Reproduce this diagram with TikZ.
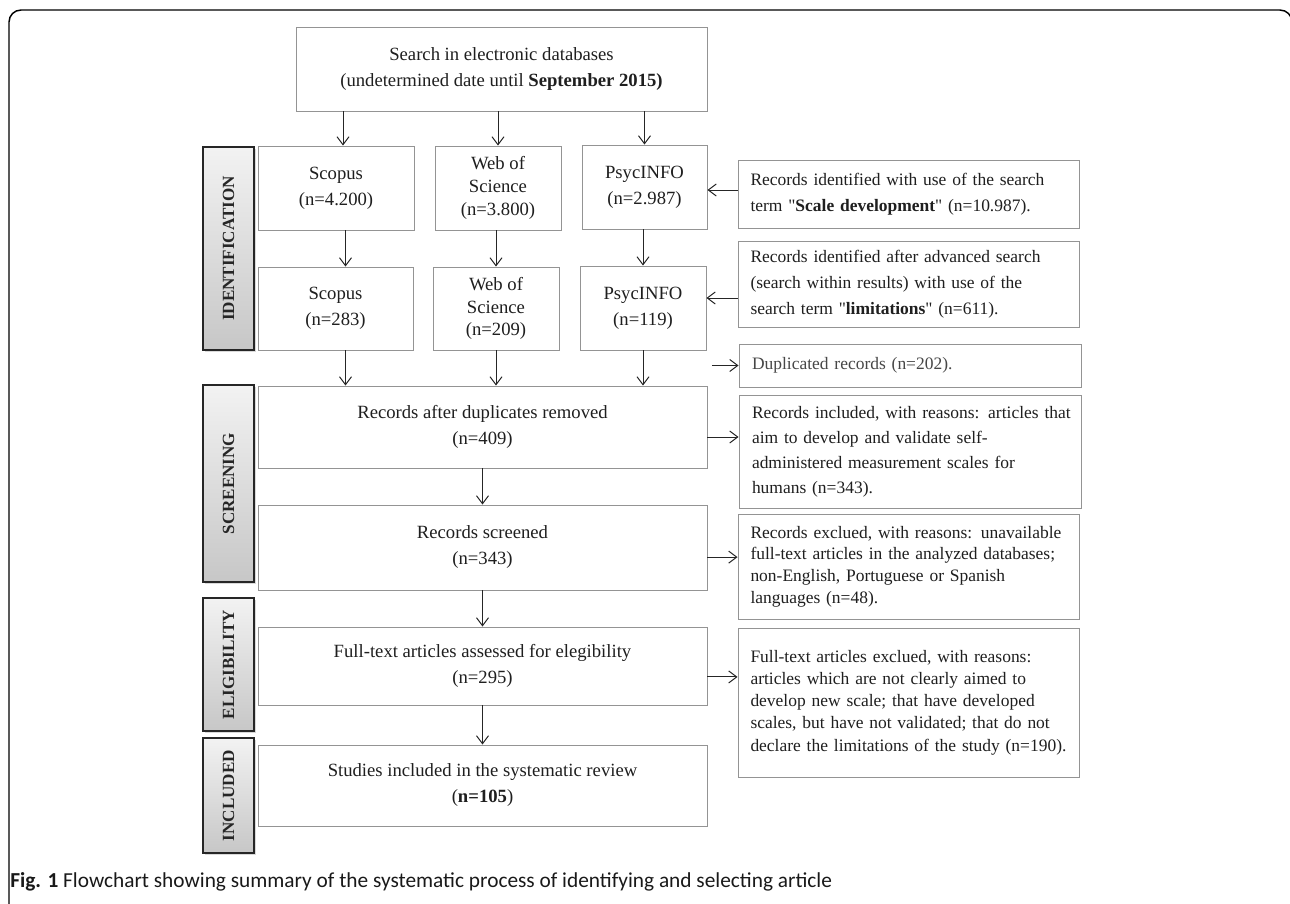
\documentclass[tikz,border=0pt]{standalone}
\usepackage{fontspec}
\setmainfont{Liberation Serif}
\newfontfamily\capfont{Carlito}
\usetikzlibrary{arrows.meta,shadows,calc}
\newcommand\jl[1]{\makebox[237pt][s]{#1}}
\newcommand\qq{\textquotedbl}
\begin{document}
\begin{tikzpicture}[x=0.75pt,y=-0.75pt,
  sz/.style 2 args={minimum width=#1*0.75pt, minimum height=#2*0.75pt},
  box/.style={draw=black!42, line width=0.7pt, fill=white, inner sep=0pt, align=center, text=black!88, font=\fontsize{14}{19.5}\selectfont},
  rbox/.style={box, align=left, text width=237pt, font=\fontsize{13.1}{19.3}\selectfont},
  arr/.style={draw=black!85, line width=0.75pt, -{Straight Barb[length=6pt,width=9pt,line width=0.75pt]}},
  stage/.style={draw=black!85, line width=0.8pt, top color=black!5, bottom color=black!22, drop shadow={shadow xshift=1.6pt, shadow yshift=-1.6pt, opacity=0.3}},
  stagetext/.style={rotate=90, font=\fontsize{12.8}{14}\selectfont\bfseries, text=black!85},
]
\useasboundingbox (0,0) rectangle (1290,904);
\clip (0,0) rectangle (1290,904);
% outer frame
\draw[line width=1.1pt, rounded corners=9pt] (9,960) -- (9,10) -- (1292,10) -- (1292,960);

% stage labels
\node[stage, sz={51}{203}] (id) at (228.5,248.5) {};
\node[stagetext] (idt) at (id) {IDENTIFICATION};
\node[stage, sz={51}{197}] (scr) at (228.5,483.5) {};
\node[stagetext] (scrt) at (scr) {SCREENING};
\node[stage, sz={51}{133}] (eli) at (228.5,664.5) {};
\node[stagetext] (elit) at (eli) {ELIGIBILITY};
\node[stage, sz={51}{115}] (inc) at (228.5,795.5) {};
\node[stagetext] (inct) at (inc) {INCLUDED};

% main flow
\node[box, sz={411}{84}, font=\fontsize{14}{20}\selectfont] (top) at (501.5,69) {Search in electronic databases\\(undetermined date until \textbf{September 2015)}};
\node[box, sz={156}{84}] (s1) at (336,188) {Scopus\\(n=4.200)};
\node[box, sz={126}{84}, font=\fontsize{14}{17}\selectfont] (w1) at (498,188) {Web of\\Science\\(n=3.800)};
\node[box, sz={125}{84}] (p1) at (644.5,187) {PsycINFO\\(n=2.987)};
\node[box, sz={155}{83}] (s2) at (335.5,308.5) {Scopus\\(n=283)};
\node[box, sz={126}{83}, font=\fontsize{14}{17}\selectfont] (w2) at (496,308.5) {Web of\\Science\\(n=209)};
\node[box, sz={126}{84}] (p2) at (643,308) {PsycINFO\\(n=119)};
\node[box, sz={449}{82}] (rad) at (482.5,427) {Records after duplicates removed\\(n=409)};
\node[box, sz={449}{85}] (rs) at (482.5,547.5) {Records screened\\(n=343)};
\node[box, sz={449}{78}] (ft) at (482.5,666) {Full-text articles assessed for elegibility\\(n=295)};
\node[box, sz={449}{81}] (si) at (482.5,785.5) {Studies included in the systematic review\\(\textbf{n=105})};

% right column
\node[rbox, sz={341}{68}] (r1) at (908.5,194) {\mbox{Records identified with use of the search}\\\mbox{term \qq\textbf{Scale development}\qq{} (n=10.987).}};
\node[rbox, sz={341}{86}] (r2) at (908.5,284) {\mbox{Records identified after advanced search}\\\mbox{(search within results) with use of the}\\\mbox{search term \qq\textbf{limitations}\qq{} (n=611).}};
\node[rbox, sz={342}{43}, text=black!72] (dup) at (910,365.5) {Duplicated records (n=202).};
\node[rbox, sz={342}{113}, font=\fontsize{13.1}{18.8}\selectfont] (ri) at (910,451.5) {\mbox{Records included, with reasons: articles that}\\\mbox{aim to develop and validate self-}\\\mbox{administered measurement scales for}\\\mbox{humans (n=343).}};
\node[rbox, sz={341}{105}, font=\fontsize{13.1}{16.3}\selectfont] (rex) at (908.5,566.5) {\jl{Records exclued, with reasons: unavailable}\\\jl{full-text articles in the analyzed databases;}\\\jl{non-English, Portuguese or Spanish}\\\mbox{languages (n=48).}};
\node[rbox, sz={341}{149}, font=\fontsize{13.1}{16.7}\selectfont] (fex) at (908.5,702.5) {\jl{Full-text articles exclued, with reasons:}\\\jl{articles which are not clearly aimed to}\\\jl{develop new scale; that have developed}\\\jl{scales, but have not validated; that do not}\\\mbox{declare the limitations of the study (n=190).}};

% caption
\node[anchor=base west, inner sep=0pt, font=\capfont\fontsize{16}{18}\selectfont, text=black!90] (cap) at (10,887) {\textbf{Fig. 1} Flowchart showing summary of the systematic process of identifying and selecting article};

% connectors
\path ($(s1.north)+(7,0)$) coordinate (sa);
\path ($(s2.north)+(10,0)$) coordinate (sb);
\draw[arr] (sa |- top.south) -- (sa);
\draw[arr] (w1.north |- top.south) -- (w1.north);
\draw[arr] (p1.north |- top.south) -- (p1.north);
\draw[arr] (sb |- s1.south) -- (sb);
\draw[arr] (w2.north |- w1.south) -- (w2.north);
\draw[arr] (p2.north |- p1.south) -- (p2.north);
\draw[arr] (sb |- s2.south) -- (sb |- rad.north);
\draw[arr] (w2.south) -- (w2.south |- rad.north);
\draw[arr] (p2.south) -- (p2.south |- rad.north);
\draw[arr] (rad.south) -- (rs.north);
\draw[arr] (rs.south) -- (ft.north);
\draw[arr] (ft.south) -- (si.north);

\draw[arr] ([yshift=3pt]r1.west) coordinate (r1a) -- (r1a -| p1.east);
\path ([yshift=-10.5pt]r2.west) coordinate (r2a);
\draw[arr] (r2a) -- (r2a -| p2.east);
\draw[arr] ([xshift=-20pt]dup.west) -- (dup.west);
\path ([yshift=-7.5pt]rad.east) coordinate (ra);
\draw[arr] (ra) -- (ra -| ri.west);
\path ([yshift=-7.2pt]rs.east) coordinate (rsa);
\draw[arr] (rsa) -- (rsa -| rex.west);
\path ([yshift=-8.2pt]ft.east) coordinate (fta);
\draw[arr] (fta) -- (fta -| fex.west);
\end{tikzpicture}
\end{document}
